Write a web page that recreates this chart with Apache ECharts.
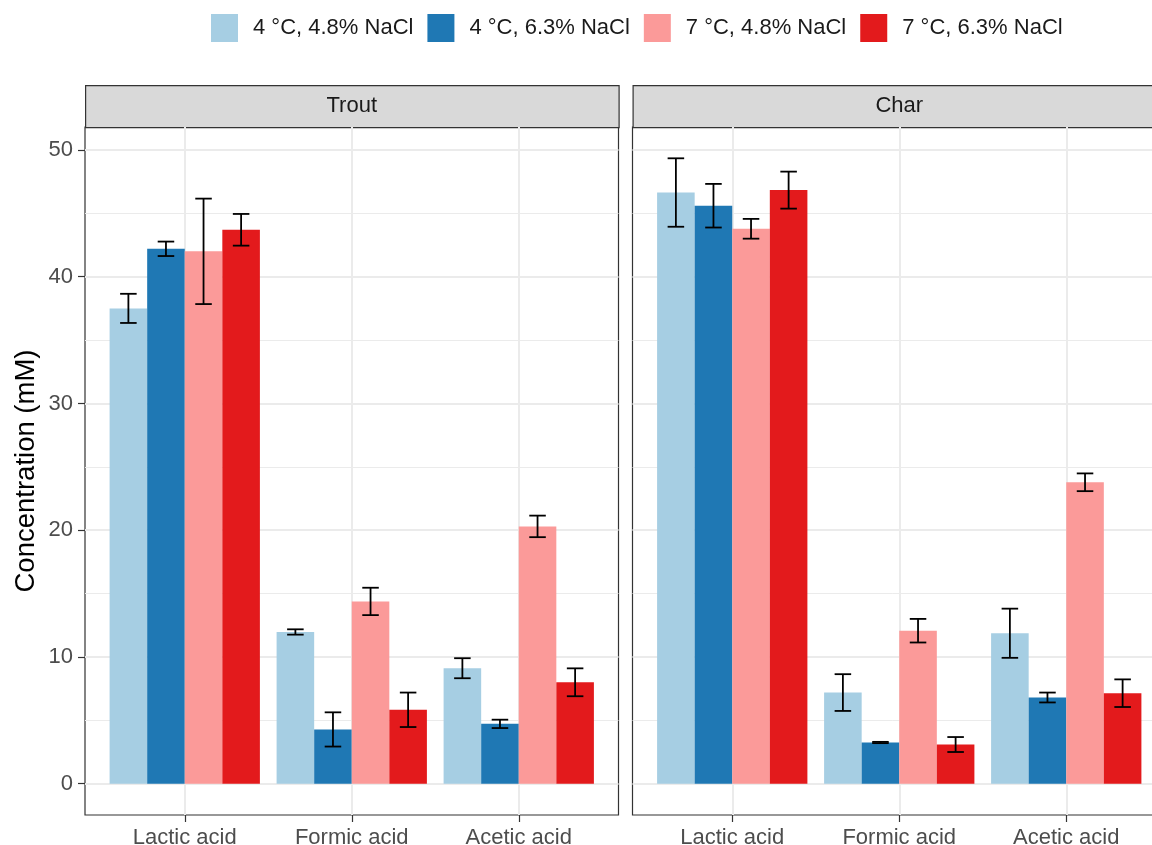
<!DOCTYPE html>
<html>
<head>
<meta charset="utf-8">
<title>Acid concentration</title>
<script src="https://cdn.jsdelivr.net/npm/echarts@6/dist/echarts.min.js"></script>
<style>
  html, body { margin: 0; padding: 0; background: #fff; }
  #chart { width: 1152px; height: 845px; }
</style>
</head>
<body>
<div id="chart"></div>
<script>
// categories and groups
var acids = ['Lactic acid', 'Formic acid', 'Acetic acid'];
var groups = ['4 °C, 4.8% NaCl', '4 °C, 6.3% NaCl', '7 °C, 4.8% NaCl', '7 °C, 6.3% NaCl'];
var panels = ['Trout', 'Char'];

// means, one row per group (lactic, formic, acetic)
var troutMean = [
  [37.5, 11.97, 9.11],
  [42.2, 4.28, 4.72],
  [42.0, 14.38, 20.3],
  [43.7, 5.83, 8.0]
];
var troutErr = [
  [1.15, 0.21, 0.79],
  [0.57, 1.35, 0.33],
  [4.16, 1.08, 0.85],
  [1.25, 1.36, 1.1]
];
var charMean = [
  [46.64, 7.19, 11.87],
  [45.6, 3.25, 6.8],
  [43.78, 12.07, 23.78],
  [46.83, 3.09, 7.14]
];
var charErr = [
  [2.7, 1.45, 1.94],
  [1.72, 0.05, 0.39],
  [0.78, 0.93, 0.7],
  [1.46, 0.59, 1.09]
];

// y ticks
var yTicks = [0, 10, 20, 30, 40, 50];
var yMinor = [5, 15, 25, 35, 45];

var colors = ['#A6CEE3', '#1F78B4', '#FB9A99', '#E31A1C'];
var font = "'Liberation Sans', Arial, sans-serif";

var yMin = -2.47, yMax = 51.81;
var panelTop = 127, panelH = 688, panelW = 533.5;
var panelLeft = [85, 632.5];
var inset = 16.25; // ggplot's 0.6 expansion on the discrete axis

var chart = echarts.init(document.getElementById('chart'));

function renderErr (params, api) {
  var cat = api.value(0), lo = api.value(1), hi = api.value(2), g = api.value(3);
  var band = api.size([1, 0])[0];
  var bw = band * 0.9 / 4;
  var pLo = api.coord([cat, lo]);
  var pHi = api.coord([cat, hi]);
  var x = pLo[0] + (g - 1.5) * bw;
  var cap = bw * 0.22;
  var st = { stroke: '#000', lineWidth: 1.8 };
  return {
    type: 'group',
    children: [
      { type: 'line', shape: { x1: x, y1: pHi[1], x2: x, y2: pLo[1] }, style: st },
      { type: 'line', shape: { x1: x - cap, y1: pHi[1], x2: x + cap, y2: pHi[1] }, style: st },
      { type: 'line', shape: { x1: x - cap, y1: pLo[1], x2: x + cap, y2: pLo[1] }, style: st }
    ]
  };
}

var grids = [], xAxes = [], yAxes = [], series = [], graphics = [];

[[troutMean, troutErr], [charMean, charErr]].forEach(function (pd, p) {
  // outer grid: panel box, y axis, horizontal grid lines
  grids.push({
    left: panelLeft[p], top: panelTop, width: panelW, height: panelH,
    show: true, borderColor: '#333333', borderWidth: 1.2, backgroundColor: '#fff',
    outerBoundsMode: 'none', containLabel: false
  });
  // inner grid: bars on the discrete axis
  grids.push({
    left: panelLeft[p] + inset, top: panelTop, width: panelW - 2 * inset, height: panelH,
    show: false, outerBoundsMode: 'none', containLabel: false
  });

  xAxes.push({ type: 'value', gridIndex: 2 * p, min: 0, max: 1, show: false });
  xAxes.push({
    type: 'category', gridIndex: 2 * p + 1, data: acids, position: 'bottom',
    axisLine: { show: false, onZero: false },
    axisTick: { show: true, alignWithLabel: true, length: 7, lineStyle: { color: '#333333', width: 1.2 } },
    axisLabel: { fontSize: 22, color: '#4D4D4D', fontFamily: font, margin: 12 },
    splitLine: { show: true, alignWithLabel: true, lineStyle: { color: '#EBEBEB', width: 2 } }
  });

  yAxes.push({
    type: 'value', gridIndex: 2 * p, min: yMin, max: yMax,
    name: p === 0 ? 'Concentration (mM)' : '',
    nameLocation: 'middle', nameGap: 45,
    nameTextStyle: { fontSize: 27.5, color: '#000', fontFamily: font },
    axisLine: { show: false },
    axisTick: { show: p === 0, customValues: yTicks, length: 7, lineStyle: { color: '#333333', width: 1.2 } },
    axisLabel: { show: p === 0, customValues: yTicks, fontSize: 22, color: '#4D4D4D', fontFamily: font, margin: 12 },
    splitLine: { show: true, lineStyle: { color: '#EBEBEB', width: 2 } }
  });
  yAxes.push({
    type: 'value', gridIndex: 2 * p, min: yMin, max: yMax,
    axisLine: { show: false },
    axisTick: { show: false, customValues: yMinor },
    axisLabel: { show: false, customValues: yMinor },
    splitLine: { show: true, lineStyle: { color: '#EBEBEB', width: 1 } }
  });
  yAxes.push({
    type: 'value', gridIndex: 2 * p + 1, min: yMin, max: yMax, show: false,
    splitLine: { show: false }
  });

  var xi = 2 * p + 1, yi = 3 * p + 2;
  var errData = [];
  groups.forEach(function (g, gi) {
    series.push({
      name: g, type: 'bar', xAxisIndex: xi, yAxisIndex: yi,
      data: pd[0][gi], barGap: '0%', barCategoryGap: '10%',
      itemStyle: { color: colors[gi] }, silent: true
    });
    pd[0][gi].forEach(function (m, ci) {
      errData.push([ci, m - pd[1][gi][ci], m + pd[1][gi][ci], gi]);
    });
  });
  series.push({
    name: 'err' + p, type: 'custom', xAxisIndex: xi, yAxisIndex: yi,
    renderItem: renderErr, data: errData, z: 5, silent: true
  });

  // strip
  graphics.push({
    type: 'rect', left: panelLeft[p], top: 85,
    shape: { width: panelW, height: panelTop - 85 },
    style: { fill: '#D9D9D9', stroke: '#333333', lineWidth: 1.2 }
  });
  graphics.push({
    type: 'text', x: panelLeft[p] + panelW / 2, y: 106,
    style: { text: panels[p], fontSize: 22, fontFamily: font, fill: '#1A1A1A', align: 'center', verticalAlign: 'middle' }
  });
});

var option = {
  animation: false,
  backgroundColor: '#fff',
  color: colors,
  legend: {
    data: groups, left: 206, top: 9,
    icon: 'rect', itemWidth: 27, itemHeight: 28, itemGap: 14,
    itemStyle: { borderWidth: 0 },
    textStyle: { fontSize: 22, color: '#1A1A1A', fontFamily: font, padding: [0, 0, 0, 10] }
  },
  grid: grids,
  xAxis: xAxes,
  yAxis: yAxes,
  series: series,
  graphic: graphics
};

chart.setOption(option);
</script>
</body>
</html>
